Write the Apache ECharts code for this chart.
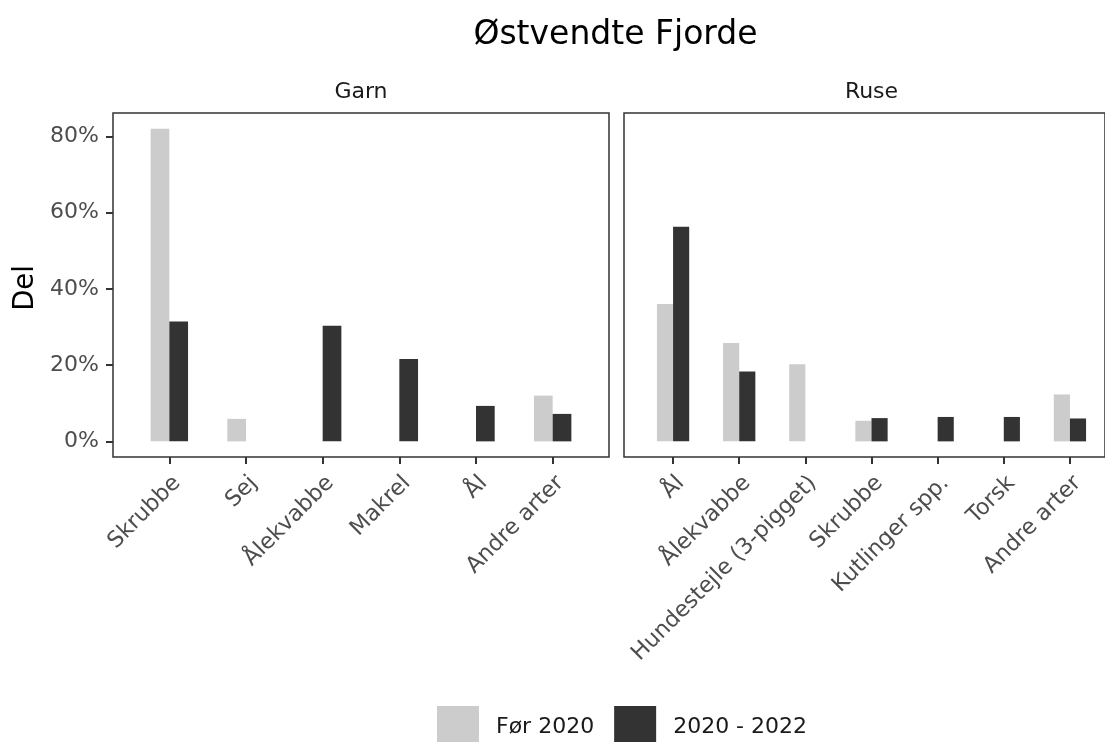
<!DOCTYPE html>
<html>
<head>
<meta charset="utf-8">
<script src="https://cdn.jsdelivr.net/npm/echarts@6/dist/echarts.min.js"></script>
<style>
  html, body { margin: 0; padding: 0; background: #ffffff; }
  #chart { width: 1105px; height: 742px; }
</style>
</head>
<body>
<div id="chart"></div>
<script>
// data (share in %)
var garnCats = ['Skrubbe', 'Sej', 'Ålekvabbe', 'Makrel', 'Ål', 'Andre arter'];
var garnFoer = [82.0, 5.9, null, null, null, 12.0];
var garnNy = [31.4, null, 30.3, 21.6, 9.3, 7.2];

var ruseCats = ['Ål', 'Ålekvabbe', 'Hundestejle (3-pigget)', 'Skrubbe', 'Kutlinger spp.', 'Torsk', 'Andre arter'];
var ruseFoer = [36.0, 25.8, 20.2, 5.4, null, null, 12.3];
var ruseNy = [56.3, 18.3, null, 6.1, 6.4, 6.4, 6.0];

var yTicks = [0, 20, 40, 60, 80];
var periods = ['Før 2020', '2020 - 2022'];

var FONT = 'DejaVu Sans';
var yMin = -4.1, yMax = 86.1;

var myChart = echarts.init(document.getElementById('chart'));

function borderY(grid) {
    return {
        type: 'value', gridIndex: grid, min: yMin, max: yMax,
        axisLine: { show: false },
        splitLine: { show: false },
        axisTick: { show: true, customValues: yTicks, length: 7, lineStyle: { color: '#333333', width: 2 } },
        axisLabel: {
            show: true, customValues: yTicks, formatter: '{value}%', margin: 14,
            color: '#4D4D4D', fontSize: 22, fontFamily: FONT
        }
    };
}
function hiddenY(grid) {
    return { type: 'value', gridIndex: grid, min: yMin, max: yMax, show: false };
}
function hiddenX(grid, cats) {
    return { type: 'category', gridIndex: grid, data: cats, show: false, axisLine: { onZero: false } };
}
function dataX(grid, cats) {
    return {
        type: 'category', gridIndex: grid, data: cats, boundaryGap: true,
        axisLine: { show: false, onZero: false },
        axisTick: { show: true, alignWithLabel: true, interval: 0, length: 7, lineStyle: { color: '#333333', width: 2 } },
        axisLabel: {
            interval: 0, rotate: 45, margin: 15, verticalAlign: 'top',
            color: '#4D4D4D', fontSize: 22.3, fontFamily: FONT
        }
    };
}
function bar(name, data, axis, color) {
    return {
        name: name, type: 'bar', xAxisIndex: axis, yAxisIndex: axis, data: data,
        barWidth: '24.4%', barGap: '0%',
        itemStyle: { color: color }
    };
}

var option = {
    backgroundColor: '#ffffff',
    animation: false,
    grid: [
        { left: 113, top: 113, width: 496, height: 344, show: true, borderColor: '#333333', borderWidth: 1.5, backgroundColor: 'transparent' },
        { left: 131, top: 113, width: 460, height: 344 },
        { left: 624, top: 113, width: 495, height: 344, show: true, borderColor: '#333333', borderWidth: 1.5, backgroundColor: 'transparent' },
        { left: 640, top: 113, width: 463, height: 344 }
    ],
    xAxis: [hiddenX(0, garnCats), dataX(1, garnCats), hiddenX(2, ruseCats), dataX(3, ruseCats)],
    yAxis: [borderY(0), hiddenY(1), hiddenY(2), hiddenY(3)],
    legend: {
        data: periods,
        left: 437, top: 706, padding: 0,
        icon: 'rect', itemWidth: 42, itemHeight: 42, itemGap: 20,
        textStyle: { color: '#1A1A1A', fontSize: 22, fontFamily: FONT, padding: [0, 0, 0, 12] }
    },
    graphic: [
        { type: 'text', x: 615.5, y: 35, style: { text: 'Østvendte Fjorde', align: 'center', verticalAlign: 'middle', fill: '#000000', fontSize: 33, fontFamily: FONT } },
        { type: 'text', x: 361, y: 92, style: { text: 'Garn', align: 'center', verticalAlign: 'middle', fill: '#1A1A1A', fontSize: 22, fontFamily: FONT } },
        { type: 'text', x: 871.5, y: 92, style: { text: 'Ruse', align: 'center', verticalAlign: 'middle', fill: '#1A1A1A', fontSize: 22, fontFamily: FONT } },
        { type: 'text', x: 25.5, y: 288, rotation: Math.PI / 2, style: { text: 'Del', align: 'center', verticalAlign: 'middle', fill: '#000000', fontSize: 27.5, fontFamily: FONT } }
    ],
    series: [
        bar(periods[0], garnFoer, 1, '#CCCCCC'),
        bar(periods[1], garnNy, 1, '#333333'),
        bar(periods[0], ruseFoer, 3, '#CCCCCC'),
        bar(periods[1], ruseNy, 3, '#333333')
    ]
};

myChart.setOption(option);
</script>
</body>
</html>
